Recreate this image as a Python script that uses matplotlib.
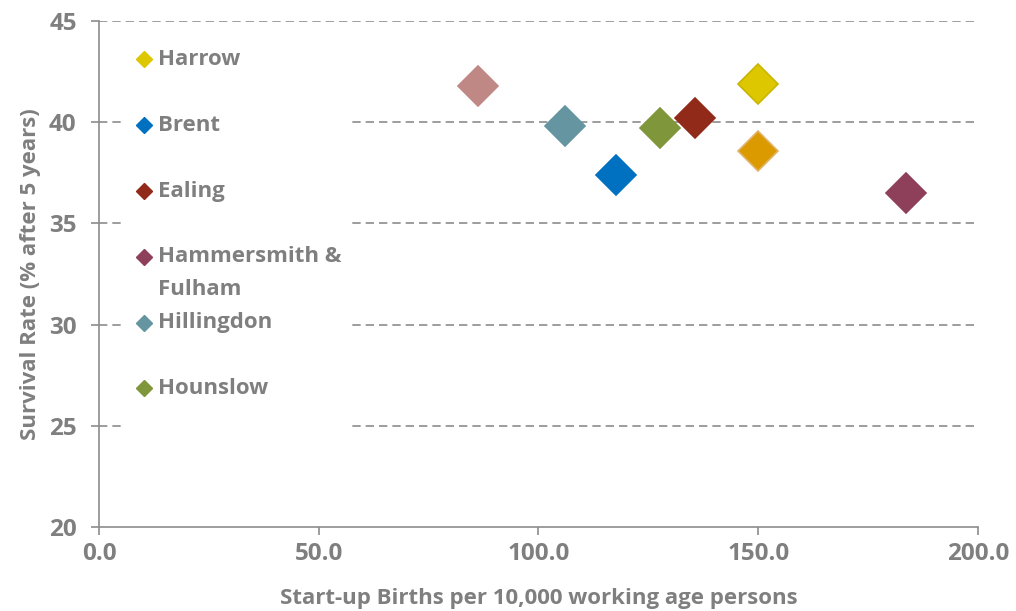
#!/usr/bin/env python3
"""Start-up births vs 5-year survival rate, West London boroughs."""

import matplotlib.pyplot as plt
from matplotlib.patches import Rectangle
from matplotlib.ticker import FormatStrFormatter

# Data
births = [86.2, 106.0, 117.6, 127.6, 135.6, 150.0, 150.0, 183.6]
survival = [41.8, 39.8, 37.4, 39.7, 40.2, 41.9, 38.6, 36.5]
fills = ['#C08884', '#6595A0', '#0070C0', '#7F973A', '#922A1A', '#DCC700', '#DA9A00', '#8E3F5A']
edges = ['#C08884', '#6595A0', '#0070C0', '#7F973A', '#922A1A', '#C9B500', '#E2B36A', '#8E3F5A']

legend_names = ['Harrow', 'Brent', 'Ealing', 'Hammersmith &\nFulham', 'Hillingdon', 'Hounslow']
legend_colors = ['#DCC700', '#0070C0', '#922A1A', '#8E3F5A', '#6595A0', '#7F973A']

x_ticks = [0, 50, 100, 150, 200]
y_ticks = [20, 25, 30, 35, 40, 45]

GREY = '#7F7F7F'
plt.rcParams['font.family'] = ['Open Sans', 'DejaVu Sans']


def main():
    fig = plt.figure(figsize=(10.16, 6.11), dpi=100)
    ax = fig.add_axes([0.0974, 0.1375, 0.8652, 0.8281])

    # dashed horizontal gridlines
    for y in y_ticks[1:]:
        ax.axhline(y, color='#8C8C8C', linestyle=(0, (5, 3)), linewidth=1.2, zorder=0)

    for x, y, fc, ec in zip(births, survival, fills, edges):
        ax.plot(x, y, marker='D', markersize=20, markerfacecolor=fc,
                markeredgecolor=ec, markeredgewidth=1.2, linestyle='none', zorder=3)

    ax.set_xlim(0, 200)
    ax.set_ylim(20, 45)
    ax.set_xticks(x_ticks)
    ax.set_yticks(y_ticks)
    ax.xaxis.set_major_formatter(FormatStrFormatter('%.1f'))
    for lab in ax.get_xticklabels() + ax.get_yticklabels():
        lab.set_fontweight('bold')

    for side in ['top', 'right']:
        ax.spines[side].set_visible(False)
    for side in ['left', 'bottom']:
        ax.spines[side].set_color('#8C8C8C')
        ax.spines[side].set_linewidth(1.2)
    ax.tick_params(axis='both', colors='#8C8C8C', length=6, width=1.2,
                   labelcolor=GREY, labelsize=17.5)
    ax.tick_params(axis='x', pad=5)
    ax.tick_params(axis='y', pad=10)

    ax.set_xlabel('Start-up Births per 10,000 working age persons',
                  fontsize=16, color=GREY, fontweight='bold', labelpad=16)
    ax.set_ylabel('Survival Rate (% after 5 years)',
                  fontsize=16, color=GREY, fontweight='bold', labelpad=6)

    # legend drawn as a white box with markers and labels
    ax.add_patch(Rectangle((0.03, 0.172), 0.258, 0.81, transform=ax.transAxes,
                           facecolor='white', edgecolor='none', zorder=1))
    for i, (name, col) in enumerate(zip(legend_names, legend_colors)):
        yy = 0.924 - 0.13 * i
        ax.plot(0.051, yy, marker='D', markersize=8, color=col,
                transform=ax.transAxes, zorder=2, clip_on=False)
        # wrapped labels: first line next to the marker, rest hangs below
        for j, line in enumerate(name.split('\n')):
            ax.text(0.067, yy - 0.065 * j, line, transform=ax.transAxes, fontsize=16,
                    color=GREY, fontweight='bold', va='center', zorder=2)

    fig.savefig('out.png', dpi=100, facecolor='white')
    plt.close(fig)


if __name__ == "__main__":
    main()
